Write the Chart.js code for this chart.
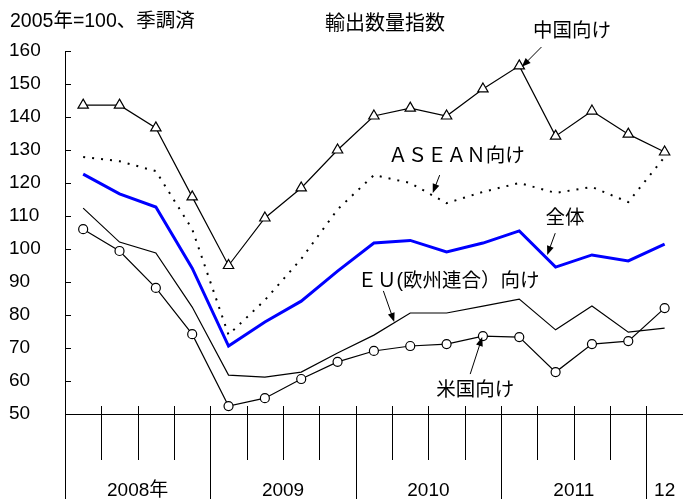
<!DOCTYPE html>
<html>
<head>
<meta charset="utf-8">
<script src="https://cdn.jsdelivr.net/npm/chart.js@4.4.1/dist/chart.umd.min.js"></script>
<style>
  html, body { margin: 0; padding: 0; background: #fff; }
  #wrap { width: 690px; height: 499px; }
</style>
</head>
<body>
<div id="wrap"><canvas id="chart" width="690" height="499"></canvas></div>
<script>
// 四半期 (2008Q1 - 2012Q1)
const quarters = ["08Q1","08Q2","08Q3","08Q4","09Q1","09Q2","09Q3","09Q4",
  "10Q1","10Q2","10Q3","10Q4","11Q1","11Q2","11Q3","11Q4","12Q1"];
const yearLabels = ["2008年", "2009", "2010", "2011", "12"];
const yearFirstIdx = [0, 4, 8, 12, 16];
const yTicks = [50, 60, 70, 80, 90, 100, 110, 120, 130, 140, 150, 160];

const china  = [143.6, 143.6, 136.7, 115.8, 95.0, 109.4, 118.5, 130.0, 140.3, 142.7, 140.3, 148.5, 155.5, 134.2, 141.8, 134.8, 129.4];
const asean  = [127.9, 126.6, 123.6, 106.0, 74.0, 84.5, 97.0, 112.0, 122.4, 120.0, 113.9, 117.3, 120.0, 117.0, 118.8, 114.2, 127.9];
const total  = [122.7, 116.7, 112.7, 94.2, 70.6, 77.9, 84.2, 93.3, 101.8, 102.6, 99.1, 101.8, 105.5, 94.5, 98.2, 96.4, 101.5];
const eu     = [112.4, 102.1, 98.8, 82.4, 61.8, 61.2, 62.7, 68.5, 73.9, 80.6, 80.6, 82.7, 84.8, 75.5, 82.7, 74.8, 76.0];
const usa    = [106.0, 99.4, 88.2, 74.2, 52.4, 54.8, 60.6, 65.8, 69.1, 70.6, 71.2, 73.6, 73.3, 62.7, 71.2, 72.1, 82.1];

// 注記: ラベル位置と矢印 (x = 四半期インデックス, v = 指数値)
const notes = [
  { text: "中国向け", x: 13.45, v: 165.8, from: [12.61, 161.2], to: [12.07, 155.2] },
  { text: "ＡＳＥＡＮ向け", x: 10.27, v: 127.9, from: [9.81, 122.4], to: [9.62, 117.0] },
  { text: "全体", x: 13.26, v: 109.1, from: [12.99, 104.8], to: [12.77, 98.2] },
  { text: "ＥＵ(欧州連合）向け", x: 10.05, v: 90.0, from: [8.26, 87.3], to: [8.56, 77.9] },
  { text: "米国向け", x: 10.79, v: 57.0, from: [10.65, 62.1], to: [10.98, 73.3] }
];

const FONT = '"Liberation Sans", "Noto Sans CJK JP", sans-serif';

function idxToPx(xs, i) {
  const p0 = xs.getPixelForValue(0);
  const step = xs.getPixelForValue(1) - p0;
  return p0 + i * step;
}

function arrow(ctx, x1, y1, x2, y2) {
  const a = Math.atan2(y2 - y1, x2 - x1);
  const len = 9, w = 3.5;
  ctx.beginPath();
  ctx.moveTo(x1, y1);
  ctx.lineTo(x2 - Math.cos(a) * len * 0.8, y2 - Math.sin(a) * len * 0.8);
  ctx.stroke();
  ctx.beginPath();
  ctx.moveTo(x2, y2);
  ctx.lineTo(x2 - Math.cos(a) * len - Math.sin(a) * w, y2 - Math.sin(a) * len + Math.cos(a) * w);
  ctx.lineTo(x2 - Math.cos(a) * len + Math.sin(a) * w, y2 - Math.sin(a) * len - Math.cos(a) * w);
  ctx.closePath();
  ctx.fill();
}

const decor = {
  id: "decor",
  afterDraw(chart) {
    const ctx = chart.ctx;
    const xs = chart.scales.x, ys = chart.scales.y;
    const area = chart.chartArea;
    const step = xs.getPixelForValue(1) - xs.getPixelForValue(0);
    ctx.save();
    ctx.strokeStyle = "#000";
    ctx.fillStyle = "#000";
    ctx.lineWidth = 1;

    // y 軸の内向き目盛
    yTicks.forEach(v => {
      if (v === yTicks[0]) return;
      const y = Math.round(ys.getPixelForValue(v)) + 0.5;
      ctx.beginPath();
      ctx.moveTo(area.left, y);
      ctx.lineTo(area.left + 6, y);
      ctx.stroke();
    });

    // x 軸の区切り線
    for (let i = 0; i < quarters.length; i++) {
      const x = Math.round(xs.getPixelForValue(0) - step / 2 + i * step) + 0.5;
      const long = yearFirstIdx.includes(i);
      ctx.beginPath();
      ctx.moveTo(x, area.bottom - 8);
      ctx.lineTo(x, long ? chart.height : area.bottom + 46);
      ctx.stroke();
    }

    // 年ラベル
    ctx.font = "19px " + FONT;
    ctx.textAlign = "center";
    ctx.textBaseline = "middle";
    yearLabels.forEach((lab, k) => {
      const a = yearFirstIdx[k];
      const b = k + 1 < yearFirstIdx.length ? yearFirstIdx[k + 1] - 1 : quarters.length - 1;
      const x = (xs.getPixelForValue(a) + xs.getPixelForValue(b)) / 2;
      ctx.fillText(lab, x, 491);
    });

    // 見出し
    ctx.textAlign = "left";
    ctx.font = "19.5px " + FONT;
    ctx.fillText("2005年=100、季調済", 10, 22);
    ctx.textAlign = "center";
    ctx.font = "20px " + FONT;
    ctx.fillText("輸出数量指数", 385, 24);

    // 注記
    notes.forEach(n => {
      ctx.font = "19.5px " + FONT;
      ctx.fillText(n.text, idxToPx(xs, n.x), ys.getPixelForValue(n.v));
      arrow(ctx,
        idxToPx(xs, n.from[0]), ys.getPixelForValue(n.from[1]),
        idxToPx(xs, n.to[0]), ys.getPixelForValue(n.to[1]));
    });
    ctx.restore();
  }
};

new Chart(document.getElementById("chart"), {
  type: "line",
  data: {
    labels: quarters,
    datasets: [
      {
        label: "中国向け", data: china,
        borderColor: "#000", borderWidth: 1.2,
        pointStyle: "triangle", pointRadius: 6,
        pointBackgroundColor: "#fff", pointBorderColor: "#000", pointBorderWidth: 1.2
      },
      {
        label: "ASEAN向け", data: asean,
        borderColor: "#000", borderWidth: 2, borderDash: [2, 7],
        pointRadius: 0
      },
      {
        label: "EU向け", data: eu,
        borderColor: "#000", borderWidth: 1.2, pointRadius: 0
      },
      {
        label: "米国向け", data: usa,
        borderColor: "#000", borderWidth: 1.2,
        pointStyle: "circle", pointRadius: 4.5,
        pointBackgroundColor: "#fff", pointBorderColor: "#000", pointBorderWidth: 1.2
      },
      {
        label: "全体", data: total,
        borderColor: "#0000ff", borderWidth: 3, pointRadius: 0
      }
    ]
  },
  options: {
    responsive: false,
    animation: false,
    devicePixelRatio: 1,
    layout: { padding: { top: 51, left: 9, right: 0, bottom: 0 } },
    plugins: {
      legend: { display: false },
      tooltip: { enabled: false }
    },
    scales: {
      x: {
        offset: true,
        grid: { display: false },
        border: { display: true, color: "#000", width: 1 },
        ticks: { display: false },
        afterFit(scale) { scale.height = 85; }
      },
      y: {
        min: 50, max: 160,
        grid: { display: false },
        border: { display: true, color: "#000", width: 1 },
        afterBuildTicks(scale) { scale.ticks = yTicks.map(v => ({ value: v })); },
        ticks: {
          crossAlign: "far",
          padding: 0,
          color: "#000",
          font: { family: FONT, size: 19 }
        },
        afterFit(scale) { scale.width = 56; }
      }
    }
  },
  plugins: [decor]
});
</script>
</body>
</html>
